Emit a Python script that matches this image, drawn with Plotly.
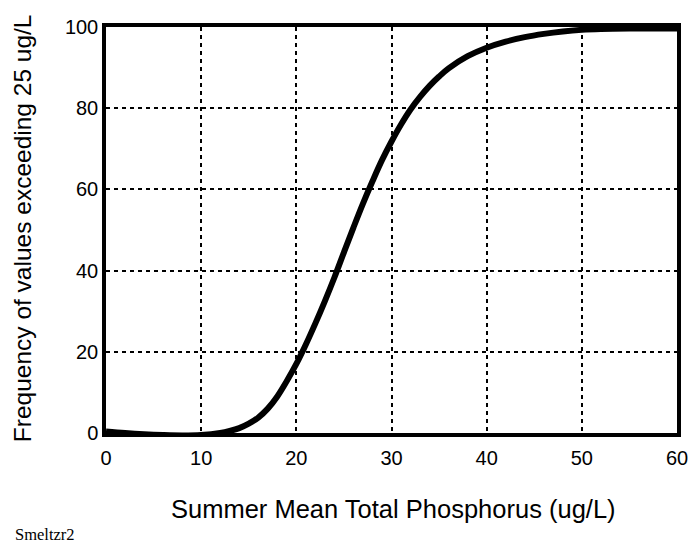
import plotly.graph_objects as go

# Summer mean total phosphorus (ug/L)
tp = [0, 2, 4, 6, 8, 10, 12, 13, 14, 15, 16, 17, 18, 19, 20, 21, 22, 23, 24, 25, 26, 27, 28,
      29, 30, 31, 32, 33, 34, 35, 36, 38, 40, 42, 44, 46, 48, 50, 52, 55, 58, 60]
# Frequency of values exceeding 25 ug/L (%)
freq = [0.4, 0.0, -0.3, -0.5, -0.6, -0.5, 0.0, 0.5, 1.2, 2.3, 3.8, 6.0, 9.0, 12.8, 17.0, 21.8, 27.0,
        32.5, 38.3, 44.5, 50.6, 56.5, 62.0, 67.2, 71.8, 76.0, 79.7, 82.8, 85.5, 87.8, 89.8, 92.8,
        94.9, 96.4, 97.5, 98.3, 98.9, 99.3, 99.5, 99.6, 99.6, 99.6]

x_ticks = [0, 10, 20, 30, 40, 50, 60]
y_ticks = [0, 20, 40, 60, 80, 100]

FONT = "Liberation Sans, Arial, sans-serif"

fig = go.Figure()
fig.add_trace(go.Scatter(x=tp, y=freq, mode="lines", line=dict(color="black", width=6, shape="spline"),
                         hoverinfo="skip", cliponaxis=False))

grid = dict(showgrid=True, gridcolor="black", gridwidth=2, griddash="4px,4px",
            showline=True, linecolor="black", linewidth=3.5, mirror=True,
            zeroline=False, ticks="", automargin=False,
            tickfont=dict(family=FONT, size=20, color="black"))

fig.update_xaxes(range=[0, 60], tickvals=x_ticks, ticklabelstandoff=4, **grid)
fig.update_yaxes(range=[0, 100], tickvals=y_ticks, **grid)

fig.add_annotation(text="Summer Mean Total Phosphorus (ug/L)", xref="paper", yref="paper",
                   x=0.504, y=-0.187, xanchor="center", yanchor="middle", showarrow=False,
                   font=dict(family=FONT, size=25.5, color="black"))
fig.add_annotation(text="Frequency of values exceeding 25 ug/L", xref="paper", yref="paper",
                   x=-0.145, y=0.505, xanchor="center", yanchor="middle", showarrow=False,
                   textangle=-90, font=dict(family=FONT, size=24.5, color="black"))
fig.add_annotation(text="Smeltzr2", xref="paper", yref="paper", x=-0.162, y=-0.249,
                   xanchor="left", yanchor="middle", showarrow=False,
                   font=dict(family="Liberation Serif, Times New Roman, serif", size=16.5, color="black"))

fig.update_layout(width=691, height=544, margin=dict(l=106, r=14, t=27, b=111, autoexpand=False),
                  plot_bgcolor="white", paper_bgcolor="white", showlegend=False)

fig.write_html("out.html", config={"displayModeBar": False},
               post_script="document.body.style.margin='0';document.body.style.overflow='hidden';")
